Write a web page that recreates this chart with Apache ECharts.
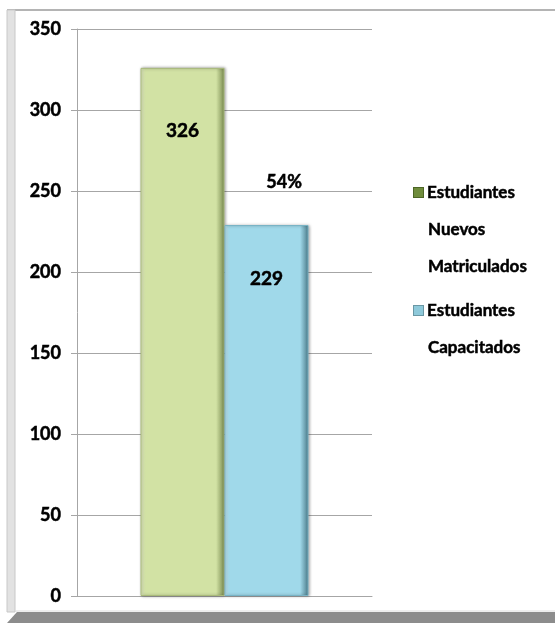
<!DOCTYPE html>
<html>
<head>
<meta charset="utf-8">
<style>
  html, body { margin: 0; padding: 0; background: #fff; }
  #chart { width: 555px; height: 623px; }
</style>
<script src="https://cdn.jsdelivr.net/npm/echarts@6/dist/echarts.min.js"></script>
</head>
<body>
<div id="chart"></div>
<script>
// values
const categories = ['']
const seriesNames = ['Estudiantes\nNuevos\nMatriculados', 'Estudiantes\nCapacitados']
const nuevos = [326]
const capacitados = [229]
const yTicks = { min: 0, max: 350, interval: 50 }
const noteText = '54%'

const font = 'Lato, "Liberation Sans", sans-serif'
// a thin outline makes Lato bold look closer to the heavier original text
const heavy = { textBorderColor: '#000', textBorderWidth: 0.5 }

const chart = echarts.init(document.getElementById('chart'))

function barColor(light, face, dark) {
  return new echarts.graphic.LinearGradient(0, 0, 1, 0, [
    { offset: 0, color: light },
    { offset: 0.06, color: face },
    { offset: 0.9, color: face },
    { offset: 1, color: dark }
  ])
}

function legendText(name) {
  const lines = name.split('\n')
  const mark = name === seriesNames[0] ? '{g|}' : '{b|}'
  return lines.map((l, i) => (i === 0 ? mark : '{s|}') + '{t|' + l + '}').join('\n')
}

chart.setOption({
  animation: false,
  grid: {
    left: 77,
    right: 183,
    top: 29,
    bottom: 27
  },
  legend: {
    orient: 'vertical',
    left: 404,
    top: 169,
    icon: 'none',
    itemWidth: 0,
    itemGap: 7,
    data: seriesNames,
    formatter: legendText,
    textStyle: {
      lineHeight: 37,
      rich: {
        g: { width: 9, height: 9, backgroundColor: '#6f8c3c', borderColor: '#4d6626', borderWidth: 1 },
        b: { width: 9, height: 9, backgroundColor: '#8ec9da', borderColor: '#6a97a4', borderWidth: 1 },
        s: { width: 10 },
        t: Object.assign({
          fontFamily: font,
          fontSize: 17,
          fontWeight: 'bold',
          color: '#000',
          lineHeight: 37,
          padding: [0, 0, 0, 4]
        }, heavy)
      }
    }
  },
  xAxis: {
    type: 'category',
    data: categories,
    axisTick: { show: false },
    axisLabel: { show: false },
    axisLine: { lineStyle: { color: '#a6a6a6', width: 1 } }
  },
  yAxis: {
    type: 'value',
    min: yTicks.min,
    max: yTicks.max,
    interval: yTicks.interval,
    axisLine: { show: true, lineStyle: { color: '#a6a6a6' } },
    axisTick: { show: true, length: 6, lineStyle: { color: '#a6a6a6' } },
    axisLabel: Object.assign({
      margin: 16,
      fontFamily: font,
      fontSize: 18,
      fontWeight: 'bold',
      color: '#000'
    }, heavy),
    splitLine: { lineStyle: { color: '#a6a6a6', width: 1 } }
  },
  series: [
    {
      name: seriesNames[0],
      type: 'bar',
      data: nuevos,
      barWidth: 84,
      barGap: '0%',
      itemStyle: {
        color: barColor('#e3eec4', '#d2e2a4', '#78894f'),
        borderColor: '#a9ba7a',
        borderWidth: 1,
        shadowColor: 'rgba(0,0,0,0.35)',
        shadowBlur: 3,
        shadowOffsetX: 1
      },
      label: Object.assign({
        show: true,
        position: 'insideTop',
        distance: 53,
        fontFamily: font,
        fontSize: 19,
        fontWeight: 'bold',
        color: '#000'
      }, heavy)
    },
    {
      name: seriesNames[1],
      type: 'bar',
      data: capacitados,
      barWidth: 84,
      itemStyle: {
        color: barColor('#c2e8f3', '#a0d9ea', '#4a7a88'),
        borderColor: '#78b4c6',
        borderWidth: 1,
        shadowColor: 'rgba(0,0,0,0.35)',
        shadowBlur: 3,
        shadowOffsetX: 1
      },
      label: Object.assign({
        show: true,
        position: 'insideTop',
        distance: 44,
        fontFamily: font,
        fontSize: 19,
        fontWeight: 'bold',
        color: '#000'
      }, heavy)
    }
  ],
  graphic: [
    // chart frame
    { type: 'line', shape: { x1: 7, y1: 10, x2: 555, y2: 10 }, style: { stroke: '#b4b4b4', lineWidth: 2 }, silent: true },
    { type: 'rect', shape: { x: 7, y: 10, width: 8, height: 602 }, style: { fill: '#e2e2e2', stroke: '#c8c8c8', lineWidth: 1 }, silent: true },
    { type: 'line', shape: { x1: 15, y1: 611, x2: 555, y2: 611 }, style: { stroke: '#dcdcdc', lineWidth: 1 }, silent: true },
    { type: 'polygon', shape: { points: [[7, 623], [17, 612], [555, 612], [555, 623]] }, style: { fill: '#8c8c8c' }, silent: true },
    {
      type: 'text',
      left: 266,
      top: 173,
      style: Object.assign({
        text: noteText,
        fontFamily: font,
        fontSize: 18,
        fontWeight: 'bold',
        fill: '#000'
      }, { stroke: '#000', lineWidth: 0.5 })
    }
  ]
})
</script>
</body>
</html>
